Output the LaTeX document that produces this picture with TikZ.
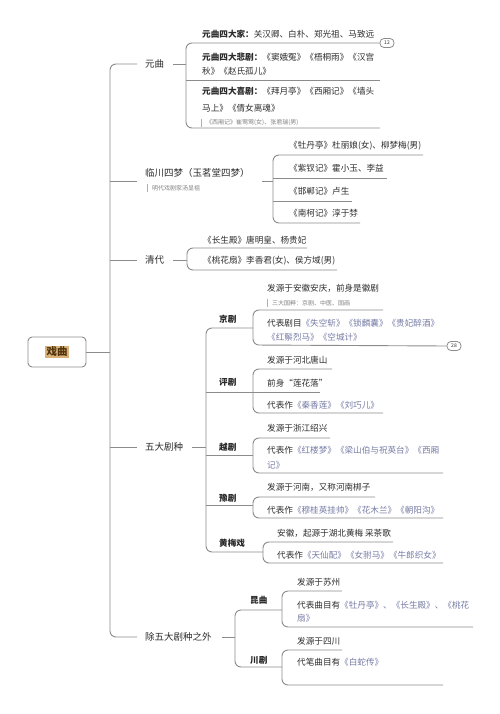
\documentclass[tikz,border=0pt]{standalone}
\usepackage{fontspec}
\setmainfont{Noto Sans CJK SC}
\definecolor{linecol}{RGB}{140,140,140}
\definecolor{textcol}{RGB}{45,45,45}
\definecolor{titlecol}{RGB}{118,124,165}
\definecolor{notecol}{RGB}{130,130,130}
\definecolor{hlcol}{RGB}{216,178,118}
\definecolor{rootcol}{RGB}{80,50,15}
\begin{document}
\begin{tikzpicture}[x=1pt,y=-1pt,
  ln/.style={draw=linecol, line width=0.9pt, rounded corners=6pt},
  txt/.style={anchor=west, inner sep=0pt, text=textcol, font=\fontsize{8.6}{10}\selectfont},
  lvone/.style={anchor=west, inner sep=0pt, text=textcol, font=\fontsize{9.5}{11}\selectfont},
  lvtwo/.style={anchor=west, inner sep=0pt, text=black!85, font=\fontsize{8.6}{10}\selectfont\bfseries},
  notetxt/.style={anchor=west, inner sep=0pt, text=notecol, font=\fontsize{6}{7}\selectfont},
  notebar/.style={draw=linecol!70, line width=0.7pt},
  badge/.style={draw=linecol, line width=0.8pt, rounded corners=4pt, fill=white, minimum width=14pt, minimum height=9pt, inner sep=0.5pt, text=textcol, font=\fontsize{5}{5}\selectfont},
  ttl/.style={text=titlecol}]
\useasboundingbox[fill=white] (0,0) rectangle (500,714);

% root
\node[draw=linecol, line width=0.9pt, rounded corners=4pt, fill=white, minimum width=58pt, minimum height=30pt] (root) at (57,352) {};
\node[fill=hlcol, inner sep=1.5pt, text=rootcol, font=\fontsize{10.5}{11}\selectfont\bfseries] (rootlbl) at (root.center) {戏曲};

% main trunk
\coordinate (t1) at (110,352);
\draw[ln] (root.east) -- (t1);
\draw[ln] (137,64) -- (110,64) -- (110,637) -- (137,637);
\draw[ln] (110,181) -- (137,181);
\draw[ln] (110,260) -- (137,260);
\draw[ln] (110,447) -- (137,447);

% ===== 元曲 =====
\node[lvone] (yq) at (145,64) {元曲};
\draw[ln] (173,64) -- (186,64);
\node[badge] (b12) at (387,43) {12};
\draw[ln] (b12.west) -- (186,43) -- (186,128) -- (380,128);
\draw[ln] (186,80) -- (380,80);
\node[txt] (y1) at (202,34) {\textbf{元曲四大家：}关汉卿、白朴、郑光祖、马致远};
\node[txt] (y2a) at (202,57) {\textbf{元曲四大悲剧：}《窦娥冤》《梧桐雨》《汉宫};
\node[txt] (y2b) at (202,71) {秋》《赵氏孤儿》};
\node[txt] (y3a) at (202,91) {\textbf{元曲四大喜剧：}《拜月亭》《西厢记》《墙头};
\node[txt] (y3b) at (202,108) {马上》《倩女离魂》};
\draw[notebar] (201,119) -- (201,127);
\node[notetxt] (y3n) at (206,123) {《西厢记》崔莺莺(女)、张君瑞(男)};

% ===== 临川四梦 =====
\node[lvone] (lc) at (145,173) {临川四梦（玉茗堂四梦）};
\draw[notebar] (147,184) -- (147,192);
\node[notetxt] (lcn) at (152,188) {明代戏剧家汤显祖};
\draw[ln] (262,181) -- (273,181);
\draw[ln] (423,155) -- (273,155) -- (273,223) -- (360,223);
\draw[ln] (273,178) -- (387,178);
\draw[ln] (273,201) -- (352,201);
\node[txt] (lc1) at (289,146) {《牡丹亭》杜丽娘(女)、柳梦梅(男)};
\node[txt] (lc2) at (289,168) {《紫钗记》霍小玉、李益};
\node[txt] (lc3) at (289,191) {《邯郸记》卢生};
\node[txt] (lc4) at (289,213) {《南柯记》淳于棼};

% ===== 清代 =====
\node[lvone] (qd) at (145,260) {清代};
\draw[ln] (173,260) -- (187,260);
\draw[ln] (307,248) -- (187,248) -- (187,270) -- (337,270);
\node[txt] (qd1) at (203,240) {《长生殿》唐明皇、杨贵妃};
\node[txt] (qd2) at (203,261) {《桃花扇》李香君(女)、侯方域(男)};

% ===== 五大剧种 =====
\node[lvone] (wd) at (145,447) {五大剧种};
\draw[ln] (192,447) -- (206,447);
\draw[ln] (253,328) -- (206,328) -- (206,552) -- (263,552);
\draw[ln] (206,392) -- (253,392);
\draw[ln] (206,455) -- (253,455);
\draw[ln] (206,505) -- (253,505);
\node[lvtwo] (jj) at (219,319) {京剧};
\node[lvtwo] (pj) at (219,382) {评剧};
\node[lvtwo] (yj) at (219,447) {越剧};
\node[lvtwo] (yuj) at (219,498) {豫剧};
\node[lvtwo] (hm) at (219,543) {黄梅戏};

% 京剧
\node[badge] (b28) at (454,346) {28};
\draw[ln] (383,310) -- (253,310) -- (253,345) -- (b28.west);
\node[txt] (jj1) at (267,288) {发源于安徽安庆，前身是徽剧};
\draw[notebar] (267,299) -- (267,307);
\node[notetxt] (jjn) at (272,303) {三大国粹：京剧、中医、国画};
\node[txt] (jj2a) at (267,323) {代表剧目{\color{titlecol}《失空斩》《锁麟囊》《贵妃醉酒》}};
\node[txt] (jj2b) at (267,337) {{\color{titlecol}《红鬃烈马》《空城计》}};

% 评剧
\draw[ln] (332,369) -- (253,369) -- (253,413) -- (383,413);
\draw[ln] (253,392) -- (320,392);
\node[txt] (pj1) at (267,360) {发源于河北唐山};
\node[txt] (pj2) at (267,383) {前身“莲花落”};
\node[txt] (pj3) at (267,405) {代表作{\color{titlecol}《秦香莲》《刘巧儿》}};

% 越剧
\draw[ln] (330,438) -- (253,438) -- (253,473) -- (443,473);
\node[txt] (yj1) at (267,428) {发源于浙江绍兴};
\node[txt] (yj2a) at (267,450) {代表作{\color{titlecol}《红楼梦》《梁山伯与祝英台》《西厢}};
\node[txt] (yj2b) at (267,465) {{\color{titlecol}记》}};

% 豫剧
\draw[ln] (375,497) -- (253,497) -- (253,518) -- (443,518);
\node[txt] (yuj1) at (267,487) {发源于河南，又称河南梆子};
\node[txt] (yuj2) at (267,510) {代表作{\color{titlecol}《穆桂英挂帅》《花木兰》《朝阳沟》}};

% 黄梅戏
\draw[ln] (393,542) -- (263,542) -- (263,563) -- (443,563);
\node[txt] (hm1) at (277,533) {安徽，起源于湖北黄梅 采茶歌};
\node[txt] (hm2) at (277,555) {代表作{\color{titlecol}《天仙配》《女驸马》《牛郎织女》}};

% ===== 除五大剧种之外 =====
\node[lvone] (cw) at (145,637) {除五大剧种之外};
\draw[ln] (222,637) -- (235,637);
\draw[ln] (282,610) -- (235,610) -- (235,667) -- (282,667);
\node[lvtwo] (kq) at (250,600) {昆曲};
\node[lvtwo] (cj) at (250,660) {川剧};

% 昆曲
\draw[ln] (342,591) -- (282,591) -- (282,627) -- (473,627);
\node[txt] (kq1) at (297,582) {发源于苏州};
\node[txt] (kq2a) at (297,605) {代表曲目有{\color{titlecol}《牡丹亭》、《长生殿》、《桃花}};
\node[txt] (kq2b) at (297,618) {{\color{titlecol}扇》}};

% 川剧
\draw[ln] (342,650) -- (282,650) -- (282,685) -- (443,685);
\node[txt] (cj1) at (297,641) {发源于四川};
\node[txt] (cj2) at (297,662) {代笔曲目有{\color{titlecol}《白蛇传》}};
\end{tikzpicture}
\end{document}
